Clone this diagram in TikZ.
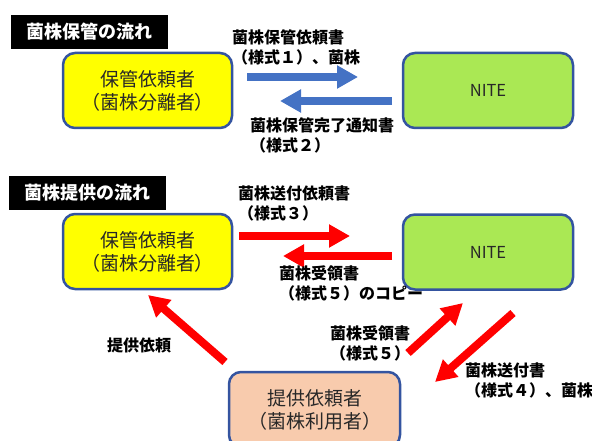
\documentclass[tikz,border=0pt]{standalone}
\usepackage{fontspec}
\setmainfont{Noto Sans CJK JP}
\usetikzlibrary{arrows.meta}
\definecolor{BoxBorder}{RGB}{52,84,160}
\definecolor{KeepYellow}{RGB}{255,255,0}
\definecolor{NiteGreen}{RGB}{170,232,84}
\definecolor{UserOrange}{RGB}{248,203,173}
\definecolor{FlowBlue}{RGB}{68,114,196}
\definecolor{FlowRed}{RGB}{255,0,0}
\definecolor{BoxText}{RGB}{40,40,40}

\begin{document}
\begin{tikzpicture}[
x=1pt,y=-1pt,
box/.style={rectangle,rounded corners=12pt,draw=BoxBorder,line width=2.5pt,text=BoxText,
minimum width=169pt,minimum height=75pt,align=center,font=\fontsize{19}{23}\selectfont},
nitebox/.style={box,fill=NiteGreen,minimum width=170pt,font=\fontsize{16.5}{20}\selectfont},
title/.style={rectangle,fill=black,text=white,minimum width=157pt,minimum height=34pt,
font=\fontsize{18}{22}\selectfont\bfseries},
note/.style={anchor=west,align=left,inner sep=0pt,font=\fontsize{16}{20}\selectfont\bfseries},
bluearrow/.style={-{Triangle[length=21pt,width=22pt]},line width=8pt,draw=FlowBlue},
redarrow/.style={-{Triangle[length=21pt,width=22pt]},line width=8pt,draw=FlowRed}
]
\useasboundingbox (0,0) rectangle (592,441);

% storage flow
\node[title] (t1) at (89.5,32) {菌株保管の流れ};
\node[box,fill=KeepYellow] (keep1) at (147.5,90.5) {保管依頼者\\（菌株分離者）};
\node[nitebox] (nite1) at (488,90.5) {NITE};
\coordinate (s1a) at (247,77);  \coordinate (s1b) at (358,77);
\coordinate (s2a) at (392,101); \coordinate (s2b) at (280,101);
\draw[bluearrow] (s1a)--(s1b);
\draw[bluearrow] (s2a)--(s2b);
\node[note] (n1) at (232,47.5) {菌株保管依頼書\\（様式１）、菌株};
\node[note] (n2) at (250,135.5) {菌株保管完了通知書\\（様式２）};

% supply flow
\node[title] (t2) at (87,193) {菌株提供の流れ};
\node[box,fill=KeepYellow] (keep2) at (147.5,251.5) {保管依頼者\\（菌株分離者）};
\node[nitebox] (nite2) at (488,252) {NITE};
\node[box,fill=UserOrange,minimum width=171pt] (user) at (314.5,409.5) {提供依頼者\\（菌株利用者）};
\coordinate (p1a) at (239,236); \coordinate (p1b) at (350,236);
\coordinate (p2a) at (392,256); \coordinate (p2b) at (283,256);
\coordinate (p3a) at (225,362); \coordinate (p3b) at (148,295);
\coordinate (p4a) at (408,353); \coordinate (p4b) at (463,303);
\coordinate (p5a) at (513,313); \coordinate (p5b) at (435,382);
\draw[redarrow] (p1a)--(p1b);
\draw[redarrow] (p2a)--(p2b);
\draw[redarrow] (p3a)--(p3b);
\draw[redarrow] (p4a)--(p4b);
\draw[redarrow] (p5a)--(p5b);
\node[note] (n3) at (238,203) {菌株送付依頼書\\（様式３）};
\node[note] (n4) at (279,283.5) {菌株受領書\\（様式５）のコピー};
\node[note] (n5) at (107,345) {提供依頼};
\node[note] (n6) at (330,343) {菌株受領書\\（様式５）};
\node[note] (n7) at (465,380) {菌株送付書\\（様式４）、菌株};
\end{tikzpicture}
\end{document}
